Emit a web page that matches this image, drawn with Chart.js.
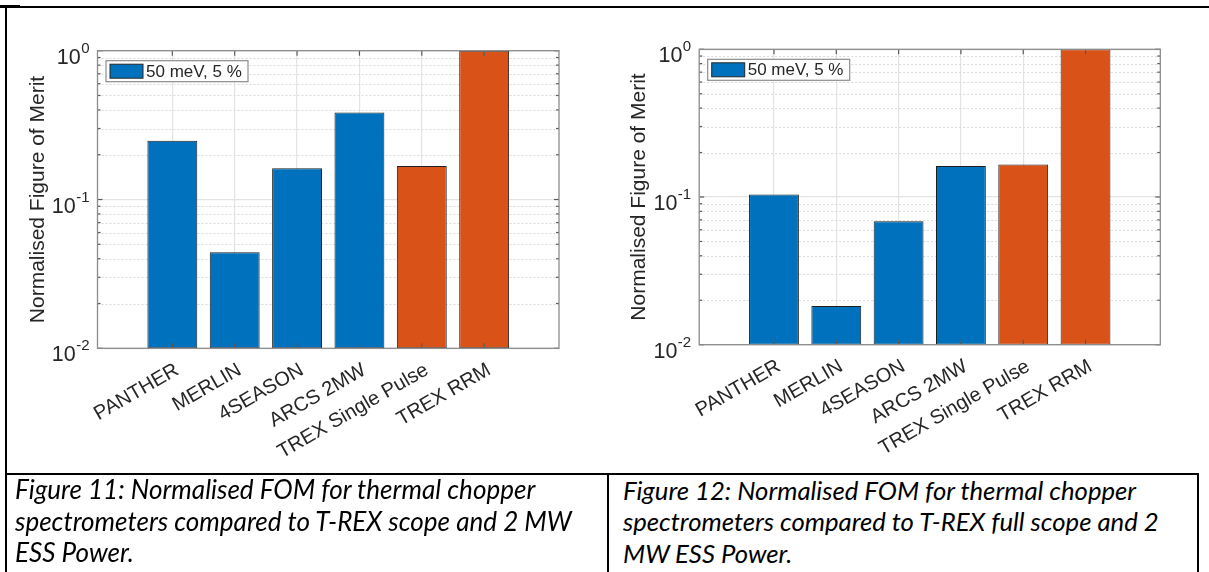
<!DOCTYPE html>
<html><head><meta charset="utf-8">
<script src="https://cdn.jsdelivr.net/npm/chart.js@4"></script>
<style>
html,body{margin:0;padding:0;background:#fff;}
#page{position:relative;width:1209px;height:572px;overflow:hidden;background:#fff;}
#page canvas{position:absolute;top:0;}
.ln{position:absolute;background:#000;z-index:5;}
.cap{position:absolute;font-family:Lato,'Open Sans',sans-serif;font-style:italic;color:#000;white-space:nowrap;z-index:6;}
.cap div{position:absolute;left:0;}
</style></head><body>
<div id="page">
  <canvas id="c1" width="604" height="470" style="left:0px"></canvas>
  <canvas id="c2" width="605" height="470" style="left:604px"></canvas>

  <div class="ln" style="left:0;top:5px;width:20px;height:3px"></div>
  <div class="ln" style="left:6px;top:6px;width:1203px;height:1.5px"></div>
  <div class="ln" style="left:5px;top:6px;width:2px;height:566px"></div>
  <div class="ln" style="left:6px;top:473px;width:1193px;height:2px"></div>
  <div class="ln" style="left:607px;top:473px;width:2px;height:99px"></div>
  <div class="ln" style="left:1197px;top:473px;width:2px;height:99px"></div>

  <div class="cap" id="cap1" style="left:15px;top:0"></div>
  <div class="cap" id="cap2" style="left:623px;top:0"></div>
</div>
<script>
// ---- data ----
const categories = ['PANTHER', 'MERLIN', '4SEASON', 'ARCS 2MW', 'TREX Single Pulse', 'TREX RRM'];
const positions = [1, 2, 3, 4, 5, 6];
const fomScope = [0.248, 0.0442, 0.162, 0.385, 0.168, 1.0];       // Figure 11
const fomFullScope = [0.104, 0.0183, 0.0684, 0.162, 0.166, 1.0];  // Figure 12
const barColors = ['#0072BD', '#0072BD', '#0072BD', '#0072BD', '#D95319', '#D95319'];
const legendLabel = '50 meV, 5 %';
const yAxisTitle = 'Normalised Figure of Merit';
const yMajorTicks = [0.01, 0.1, 1];
const yTickExponents = ['-2', '-1', '0'];
const yMinorTicks = [0.02, 0.03, 0.04, 0.05, 0.06, 0.07, 0.08, 0.09, 0.2, 0.3, 0.4, 0.5, 0.6, 0.7, 0.8, 0.9];
const caption11 = ['Figure 11: Normalised FOM for thermal chopper', 'spectrometers compared to T-REX scope and 2 MW', 'ESS Power.'];
const caption12 = ['Figure 12: Normalised FOM for thermal chopper', 'spectrometers compared to T-REX full scope and 2', 'MW ESS Power.'];

const FONT = "'Liberation Sans', Arial, Helvetica, sans-serif";
const TXT = '#262626';

const matlabAxes = {
  id: 'matlabAxes',
  beforeDatasetsDraw(chart) {
    const {ctx, chartArea: a, scales: {y}} = chart;
    ctx.save();
    ctx.strokeStyle = '#d9d9d9';
    ctx.lineWidth = 1;
    ctx.setLineDash([2, 2]);
    yMinorTicks.forEach(v => {
      const py = Math.round(y.getPixelForValue(v)) + 0.5;
      ctx.beginPath(); ctx.moveTo(a.left, py); ctx.lineTo(a.right, py); ctx.stroke();
    });
    ctx.restore();
  },
  afterDatasetsDraw(chart) {
    const {ctx, chartArea: a, scales: {x, y}} = chart;
    ctx.save();
    ctx.strokeStyle = '#5a5a5a';
    ctx.lineWidth = 1.2;
    positions.forEach(p => {
      const px = x.getPixelForValue(p);
      ctx.beginPath(); ctx.moveTo(px, a.bottom); ctx.lineTo(px, a.bottom - 5); ctx.stroke();
      ctx.beginPath(); ctx.moveTo(px, a.top); ctx.lineTo(px, a.top + 5); ctx.stroke();
    });
    const tick = (v, len) => {
      const py = y.getPixelForValue(v);
      ctx.beginPath(); ctx.moveTo(a.left, py); ctx.lineTo(a.left + len, py); ctx.stroke();
      ctx.beginPath(); ctx.moveTo(a.right, py); ctx.lineTo(a.right - len, py); ctx.stroke();
    };
    yMinorTicks.forEach(v => tick(v, 3));
    yMajorTicks.forEach(v => tick(v, 5));
    ctx.strokeStyle = '#8c8c8c';
    ctx.lineWidth = 1.3;
    ctx.strokeRect(a.left, a.top, a.right - a.left, a.bottom - a.top);
    ctx.restore();
  },
  afterDraw(chart) {
    const {ctx, chartArea: a, scales: {y}} = chart;
    ctx.save();
    ctx.fillStyle = TXT;
    // y tick labels 10^n
    const right = a.left - 8;
    yMajorTicks.forEach((v, i) => {
      const py = y.getPixelForValue(v);
      ctx.font = '15px ' + FONT;
      const ew = ctx.measureText(yTickExponents[i]).width;
      ctx.textAlign = 'left'; ctx.textBaseline = 'alphabetic';
      ctx.fillText(yTickExponents[i], right - ew, py + 2);
      ctx.font = '21.5px ' + FONT;
      ctx.textAlign = 'right';
      ctx.fillText('10', right - ew - 0.5, py + 13);
    });
    // y title
    ctx.save();
    ctx.translate(a.left - 54, (a.top + a.bottom) / 2);
    ctx.rotate(-Math.PI / 2);
    ctx.font = '21px ' + FONT;
    ctx.textAlign = 'center'; ctx.textBaseline = 'alphabetic';
    ctx.fillText(yAxisTitle, 0, 0);
    ctx.restore();
    // legend
    const ds = chart.data.datasets[0];
    const lx = a.left + 8.5, ly = a.top + 10, lw = 142, lh = 21;
    ctx.fillStyle = '#ffffff';
    ctx.fillRect(lx, ly, lw, lh);
    ctx.strokeStyle = '#8c8c8c'; ctx.lineWidth = 1.2;
    ctx.strokeRect(lx, ly, lw, lh);
    ctx.fillStyle = ds.backgroundColor[0];
    ctx.fillRect(lx + 4, ly + 3.5, 33, lh - 7);
    ctx.strokeStyle = '#262626'; ctx.lineWidth = 1;
    ctx.strokeRect(lx + 4, ly + 3.5, 33, lh - 7);
    ctx.fillStyle = TXT;
    ctx.font = '17px ' + FONT;
    ctx.textAlign = 'left'; ctx.textBaseline = 'middle';
    ctx.fillText(ds.label, lx + 40, ly + lh / 2 + 1);
    ctx.restore();
  }
};

function makeChart(id, values, box) {
  return new Chart(document.getElementById(id), {
    type: 'bar',
    data: {
      datasets: [{
        label: legendLabel,
        data: positions.map((p, i) => ({x: p, y: values[i]})),
        backgroundColor: barColors,
        borderColor: '#1e1e1e',
        borderWidth: 1,
        borderSkipped: false,
        barPercentage: 0.8,
        categoryPercentage: 1.0
      }]
    },
    options: {
      responsive: false,
      animation: false,
      layout: {autoPadding: false, padding: {left: box.left, top: box.top, right: box.w - box.right, bottom: 0}},
      plugins: {legend: {display: false}, tooltip: {enabled: false}, title: {display: false}},
      scales: {
        x: {
          type: 'linear', min: -0.2, max: 7.2, offset: false,
          afterBuildTicks: s => { s.ticks = positions.map(v => ({value: v})); },
          ticks: {
            autoSkip: false, minRotation: 30, maxRotation: 30, padding: 10, labelOffset: 5, color: TXT,
            font: {family: FONT, size: 20},
            callback: (v, i) => categories[i]
          },
          grid: {color: '#e3e3e3', lineWidth: 1.2, drawTicks: false, offset: false},
          border: {display: false},
          afterFit: s => { s.height = box.h - box.bottom; }
        },
        y: {
          type: 'logarithmic', min: 0.01, max: 1,
          afterBuildTicks: s => { s.ticks = yMajorTicks.map(v => ({value: v})); },
          ticks: {display: false},
          grid: {color: '#e3e3e3', lineWidth: 1.2, drawTicks: false},
          border: {display: false},
          afterFit: s => { s.width = 0; }
        }
      }
    },
    plugins: [matlabAxes]
  });
}

makeChart('c1', fomScope, {w: 604, h: 470, left: 97.5, right: 559, top: 50.7, bottom: 348.3});
makeChart('c2', fomFullScope, {w: 605, h: 470, left: 95.2, right: 556.3, top: 49.3, bottom: 344.7});

// captions
function buildCaption(el, lines, targetWidth) {
  const spans = lines.map(t => {
    const d = document.createElement('div');
    const s = document.createElement('span');
    s.textContent = t;
    d.appendChild(s);
    el.appendChild(d);
    return s;
  });
  el.style.fontSize = '22px';
  const w = spans[1].getBoundingClientRect().width;
  const f = 22 * targetWidth / w;
  el.style.fontSize = f + 'px';
  const baselines = [500, 531.5, 563];
  [...el.children].forEach((d, i) => {
    d.style.lineHeight = (1.2 * f) + 'px';
    d.style.top = (baselines[i] - 0.987 * f) + 'px';
  });
}
buildCaption(document.getElementById('cap1'), caption11, 557);
buildCaption(document.getElementById('cap2'), caption12, 536);
</script>
</body></html>
